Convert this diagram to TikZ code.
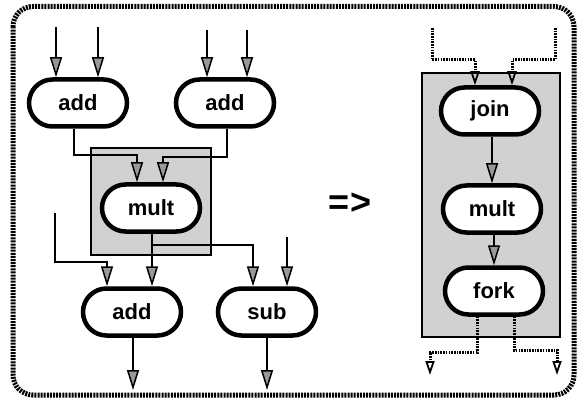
\documentclass[tikz,border=0pt]{standalone}
\usepackage{fontspec}
\setmainfont{Liberation Sans}
\usetikzlibrary{arrows.meta,shapes.misc}

\tikzset{
  solidtip/.tip={Triangle[length=20pt,width=12pt,fill=black!40,line width=1.5pt]},
  hollowtip/.tip={Triangle[open,length=14pt,width=9pt,line width=1.8pt]},
  op/.style={rounded rectangle, draw=black, line width=4.5pt, fill=white,
    minimum width=98pt, minimum height=47pt, inner sep=0pt,
    font=\fontsize{22}{24}\selectfont\bfseries},
  wire/.style={draw, line width=2.6pt, -solidtip},
  dotwire/.style={draw, line width=3pt, dash pattern=on 1.6pt off 1.1pt, -hollowtip},
  group/.style={draw, line width=2.8pt, fill=black!18},
  frame/.style={draw=black, line width=5pt, dash pattern=on 2pt off 1.1pt,
    rounded corners=20pt}
}

\begin{document}
\begin{tikzpicture}[x=1pt,y=-1pt]

\useasboundingbox (0,0) rectangle (577,403);

% outer frame
\draw[frame] (13,6.5) rectangle (574,395);

% shaded groups
\draw[group] (91,148) rectangle (211,255);
\draw[group] (422,73) rectangle (560,337);

% left graph
\node[op] (addA) at (78,103) {add};
\node[op] (addB) at (225,103) {add};
\node[op] (multL) at (151,208) {mult};
\node[op] (addC) at (132,312) {add};
\node[op] (sub) at (267,312) {sub};

% right graph
\node[op] (join) at (490,111) {join};
\node[op] (multR) at (492,209) {mult};
\node[op] (fork) at (494,291) {fork};

% transformation sign
\node[font=\fontsize{36}{38}\selectfont\bfseries] (impl) at (350,204) {=>};

% free ends and bends
\coordinate (i1) at (56,27);
\coordinate (i2) at (98,27);
\coordinate (i3) at (207,30);
\coordinate (i4) at (247,30);
\coordinate (a1) at (74,155);
\coordinate (a2) at (137,155);
\coordinate (b1) at (227,157);
\coordinate (b2) at (163,157);
\coordinate (m1) at (152,245);
\coordinate (m2) at (253,245);
\coordinate (i5) at (55,213);
\coordinate (c1) at (55,262);
\coordinate (c2) at (107,262);
\coordinate (i6) at (287,237);
\coordinate (o1) at (133,390);
\coordinate (o2) at (267,390);

\draw[wire] (i1) -- (i1 |- addA.north);
\draw[wire] (i2) -- (i2 |- addA.north);
\draw[wire] (i3) -- (i3 |- addB.north);
\draw[wire] (i4) -- (i4 |- addB.north);
\draw[wire] (addA.south -| a1) -- (a1) -- (a2) -- (a2 |- multL.north);
\draw[wire] (addB.south -| b1) -- (b1) -- (b2) -- (b2 |- multL.north);
\draw[wire] (multL.south -| m1) -- (m1 |- addC.north);
\draw[wire] (m1) -- (m2) -- (m2 |- sub.north);
\draw[wire] (i5) -- (c1) -- (c2) -- (c2 |- addC.north);
\draw[wire] (i6) -- (i6 |- sub.north);
\draw[wire] (addC.south -| o1) -- (o1);
\draw[wire] (sub.south -| o2) -- (o2);

% right side wiring
\coordinate (j1) at (432,28);
\coordinate (j2) at (432,60);
\coordinate (j3) at (475,60);
\coordinate (k1) at (555,28);
\coordinate (k2) at (555,60);
\coordinate (k3) at (512,60);
\coordinate (f1) at (477,352);
\coordinate (f2) at (430,352);
\coordinate (f3) at (430,375);
\coordinate (g1) at (514,350);
\coordinate (g2) at (557,350);
\coordinate (g3) at (557,375);

\draw[dotwire] (j1) -- (j2) -- (j3) -- (j3 |- join.north);
\draw[dotwire] (k1) -- (k2) -- (k3) -- (k3 |- join.north);
\draw[wire] (join.south -| multR.north) -- (multR.north);
\draw[wire] (multR.south -| fork.north) -- (fork.north);
\draw[dotwire] (fork.south -| f1) -- (f1) -- (f2) -- (f3);
\draw[dotwire] (fork.south -| g1) -- (g1) -- (g2) -- (g3);

\end{tikzpicture}
\end{document}
